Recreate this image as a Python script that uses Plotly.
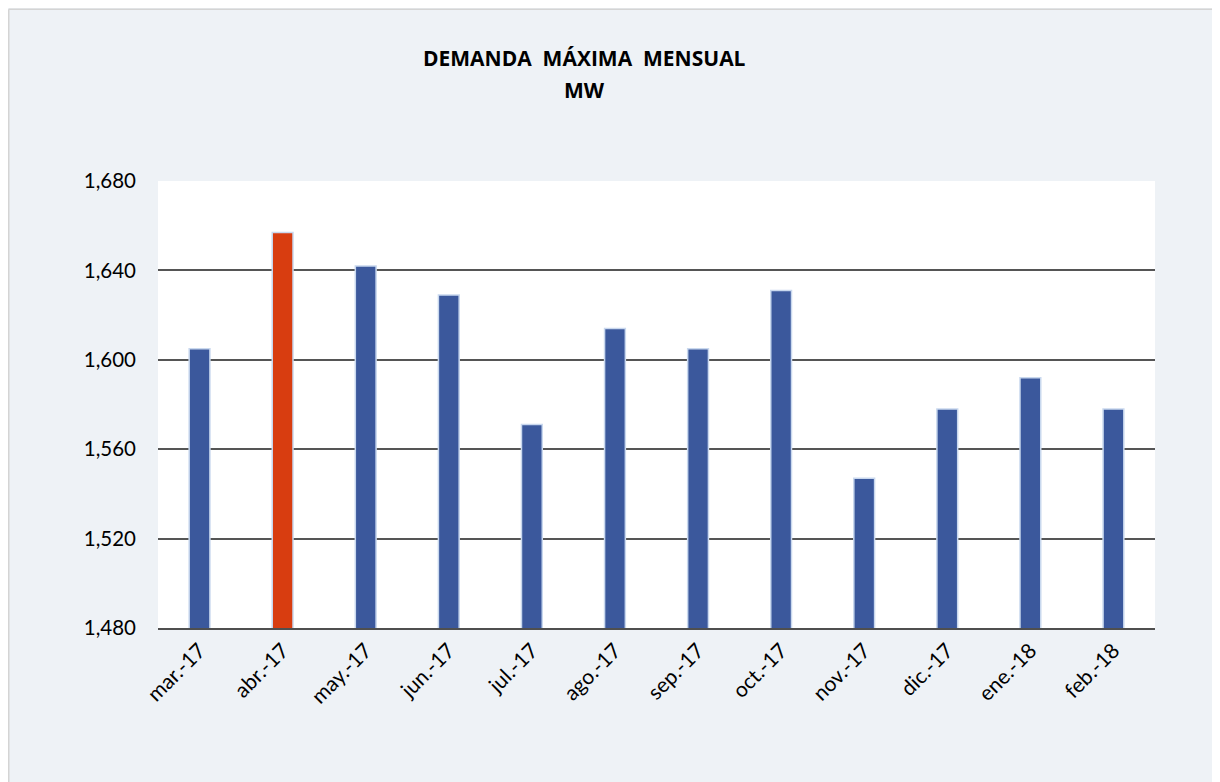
import plotly.graph_objects as go

months = ["mar.-17", "abr.-17", "may.-17", "jun.-17", "jul.-17", "ago.-17",
          "sep.-17", "oct.-17", "nov.-17", "dic.-17", "ene.-18", "feb.-18"]
demand_mw = [1605, 1657, 1642, 1629, 1571, 1614, 1605, 1631, 1547, 1578, 1592, 1578]
highlight = "abr.-17"

BLUE = "#3B589C"
RED = "#D83D10"
colors = [RED if m == highlight else BLUE for m in months]

W, H = 1212, 774
L, R, T, B = 150, 65, 173, 154
PW, PH = W - L - R, H - T - B

border = dict(color="#D4D4D4", width=1.5)

fig = go.Figure()
fig.add_trace(go.Bar(
    x=months, y=demand_mw,
    marker=dict(color=colors, line=dict(color="#C9D8EE", width=1.5)),
    hoverinfo="x+y",
))

fig.update_layout(
    width=W, height=H,
    paper_bgcolor="#EEF2F6", plot_bgcolor="#FFFFFF",
    margin=dict(l=L, r=R, t=T, b=B),
    bargap=0.75,
    showlegend=False,
    font=dict(family="Lato, Open Sans, sans-serif", color="#000000", size=20),
    xaxis=dict(
        tickangle=-45, showgrid=False, showline=True, linecolor="#4F4F4F", linewidth=2,
        ticks="", tickfont=dict(size=21), fixedrange=True,
    ),
    yaxis=dict(
        range=[1480, 1680], dtick=40, tick0=1480, tickformat=",",
        showgrid=True, gridcolor="#555555", gridwidth=2,
        zeroline=False, showline=False, ticks="", ticklabelstandoff=21,
        tickfont=dict(size=20.5), fixedrange=True,
    ),
    annotations=[
        dict(text="<b>DEMANDA  MÁXIMA  MENSUAL</b>", xref="paper", yref="paper",
             x=(576 - L) / PW, y=1 + (T - 50) / PH, xanchor="center", yanchor="middle",
             showarrow=False, font=dict(size=21, color="#000000", family="Open Sans, sans-serif")),
        dict(text="<b>MW</b>", xref="paper", yref="paper",
             x=(576 - L) / PW, y=1 + (T - 82) / PH, xanchor="center", yanchor="middle",
             showarrow=False, font=dict(size=21, color="#000000", family="Open Sans, sans-serif")),
    ],
    shapes=[
        dict(type="line", xref="paper", yref="paper",
             x0=-(L - 0.75) / PW, x1=1 + (R + 20) / PW,
             y0=1 + (T - 1.25) / PH, y1=1 + (T - 1.25) / PH, line=border, layer="below"),
        dict(type="line", xref="paper", yref="paper",
             x0=-(L - 0.75) / PW, x1=-(L - 0.75) / PW,
             y0=-(B + 20) / PH, y1=1 + (T - 1.25) / PH, line=border, layer="below"),
    ],
)

fig.write_html("out.html")
